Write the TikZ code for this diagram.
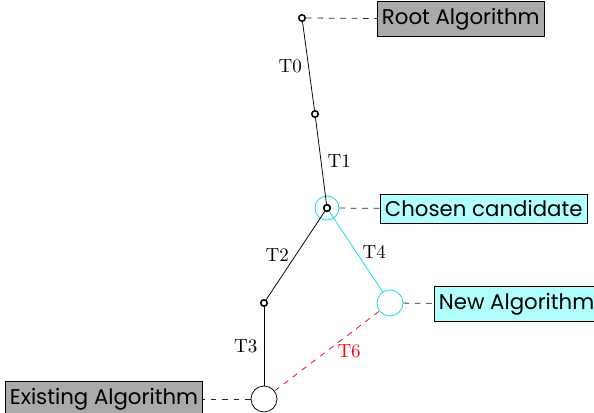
\documentclass[tikz,border=0pt]{standalone}
\usepackage{fontspec}
\newfontfamily\boxfont{Poppins}
\usepackage{xcolor}
\definecolor{aqua}{RGB}{0,225,225}
\definecolor{aquafill}{RGB}{178,255,255}
\definecolor{tagfill}{RGB}{170,170,170}
\usetikzlibrary{positioning}

\begin{document}
\begin{tikzpicture}[
    x=0.5263pt,
    y=-0.5263pt,
    every node/.style={font=\normalsize},
    dot/.style={circle,draw,fill=white,line width=0.8pt,inner sep=0pt,minimum size=3.4pt},
    bigdot/.style={circle,draw,fill=white,inner sep=0pt,minimum size=13.7pt},
    tag/.style={draw,font=\boxfont\fontsize{11.2}{13}\selectfont,inner xsep=2.4pt,inner ysep=3.4pt,anchor=west},
    link/.style={dashed,black!85}
]

\useasboundingbox (0,0) rectangle (594,413);

% Tree points
\node[dot] (root) at (302,18) {};
\node[dot] (mid) at (315,114) {};
\node[dot] (chosen) at (327,208) {};
\node[dot] (left) at (264,303) {};
\node[bigdot,draw=aqua] (newalg) at (390,303) {};
\node[bigdot] (existing) at (264,399) {};

% Ring round the chosen candidate
\node[circle,draw=aqua,inner sep=0pt,minimum size=12.6pt] (ring) at (chosen) {};

% Transitions
\draw (root) -- (mid) node[midway,left] {T0};
\draw (mid) -- (chosen) node[midway,right] {T1};
\draw (chosen) -- (left) node[midway,left] {T2};
\draw[aqua] (chosen) -- (newalg) node[midway,right,black] {T4};
\draw (left) -- (existing) node[midway,left] {T3};
\draw[dashed,red] (existing) -- (newalg)
    node[midway,right,xshift=2pt] {T6};

% Labels
\node[tag,fill=tagfill] (rootlbl) at (377,19) {Root Algorithm};
\node[tag,fill=aquafill] (chosenlbl) at (380,209) {Chosen candidate};
\node[tag,fill=aquafill] (newlbl) at (434,304) {New Algorithm};
\node[tag,fill=tagfill,anchor=east] (existlbl) at (203,399) {Existing Algorithm};

\draw[link] (root) -- (rootlbl);
\draw[link] (ring) -- (chosenlbl);
\draw[link] (newalg) -- (newlbl);
\draw[link] (existing) -- (existlbl);

% Redraw the chosen point on top
\node[dot] at (chosen) {};

\end{tikzpicture}
\end{document}
